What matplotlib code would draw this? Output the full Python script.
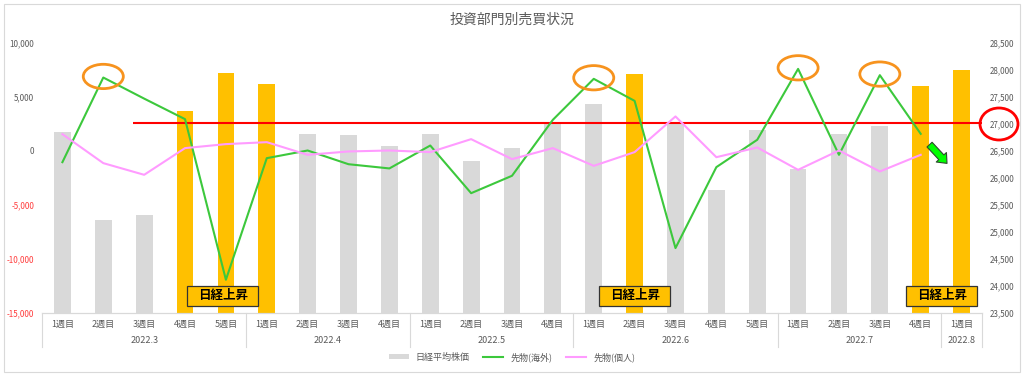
import numpy as np
import matplotlib.pyplot as plt
from matplotlib.patches import Ellipse, Rectangle
from matplotlib.ticker import FixedLocator, FuncFormatter

plt.rcParams['font.family'] = ['Noto Sans CJK JP', 'DejaVu Sans']

weeks = ['1週目', '2週目', '3週目', '4週目', '5週目',
         '1週目', '2週目', '3週目', '4週目',
         '1週目', '2週目', '3週目', '4週目',
         '1週目', '2週目', '3週目', '4週目', '5週目',
         '1週目', '2週目', '3週目', '4週目',
         '1週目']
months = ['2022.3', '2022.4', '2022.5', '2022.6', '2022.7', '2022.8']
weeks_in_month = [5, 4, 4, 5, 4, 1]

# 日経平均株価 (right axis)
nikkei = [26840, 25210, 25300, 27230, 27930, 27730,
          26810, 26790, 26580,
          26810, 26310, 26540, 26990,
          27360, 27920, 27000, 25760, 26870,
          26150, 26810, 26950, 27690,
          27990]
# weeks where the Nikkei rose (highlighted)
rise_idx = [3, 4, 5, 14, 21, 22]

# 先物(海外) / 先物(個人) (left axis)
futures_foreign = [-1080, 6750, 4800, 2900, -11960, -710,
                   0, -1270, -1660,
                   460, -3950, -2340, 2840,
                   6630, 4590, -9030, -1540, 990,
                   7550, -400, 6970, 1540]
futures_individual = [1510, -1170, -2250, 220, 590, 770,
                      -400, -90, 0,
                      -150, 1050, -800, 220,
                      -1420, -150, 3150, -620, 280,
                      -1790, 0, -1940, -400]

peaks = [1, 13, 18, 20]

x = np.arange(len(weeks))
gray = '#595959'

fig = plt.figure(figsize=(10.24, 3.77), dpi=100)
fig.add_artist(Rectangle((4 / 1024, 5 / 377), 1016 / 1024, 368 / 377,
                         transform=fig.transFigure, fill=False,
                         edgecolor='#D9D9D9', lw=0.8))

ax = fig.add_axes([0.041, 0.1708, 0.918, 0.7167])
ax2 = ax.twinx()
ax.set_zorder(ax2.get_zorder() + 1)
ax.patch.set_visible(False)

bar_colors = ['#FFC000' if i in rise_idx else '#D9D9D9' for i in range(len(nikkei))]
bars = ax2.bar(x, nikkei, width=0.41, color=bar_colors, label='日経平均株価', zorder=2)
ax2.set_ylim(23500, 28500)
ax2.yaxis.set_major_locator(FixedLocator(np.arange(23500, 28501, 500)))
ax2.yaxis.set_minor_locator(FixedLocator(np.arange(23500, 28501, 1000)))
ax2.grid(True, which='minor', axis='y', color='#E6E6E6', lw=0.8, zorder=0)
ax2.yaxis.set_major_formatter(FuncFormatter(lambda v, p: f'{v:,.0f}'))
ax2.tick_params(axis='y', which='both', length=0, labelsize=5.8, labelcolor=gray, pad=5.5)
ax2.hlines(27000, 1.73, 22.5, color='#FF0000', lw=1.5, zorder=3)

l1, = ax.plot(x[:len(futures_foreign)], futures_foreign, color='#3CC83C', lw=1.5, label='先物(海外)')
l2, = ax.plot(x[:len(futures_individual)], futures_individual, color='#FF9BFF', lw=1.5, label='先物(個人)')
ax.set_ylim(-15000, 10000)
ax.set_yticks(np.arange(-15000, 10001, 5000))
ax.yaxis.set_major_formatter(FuncFormatter(lambda v, p: f'{v:,.0f}'))
ax.tick_params(axis='y', length=0, labelsize=5.8, pad=5.5)
for lab, v in zip(ax.get_yticklabels(), ax.get_yticks()):
    lab.set_color('#FF3B3B' if v < 0 else gray)

ax.set_xlim(-0.5, len(weeks) - 0.5)
ax.set_xticks(x)
ax.set_xticklabels(weeks)
ax.tick_params(axis='x', length=0, labelsize=6.5, labelcolor=gray, pad=5)

for a in (ax, ax2):
    for s in ('top', 'left', 'right'):
        a.spines[s].set_visible(False)
    a.spines['bottom'].set_color('#D9D9D9')

# month group labels and separators
start = 0
bounds = [0]
for m, n in zip(months, weeks_in_month):
    ax.text(start + (n - 1) / 2, -0.104, m, transform=ax.get_xaxis_transform(),
            ha='center', va='center', fontsize=6.5, color=gray)
    start += n
    bounds.append(start)
for b in bounds:
    ax.plot([b - 0.5, b - 0.5], [0, -0.128], transform=ax.get_xaxis_transform(),
            color='#D9D9D9', lw=0.8, clip_on=False)

# orange circles around the foreign futures peaks
for i in peaks:
    ax.add_patch(Ellipse((i, futures_foreign[i] + 100), 0.98, 2250,
                         fill=False, edgecolor='#F7931E', lw=2, zorder=5))

# red circle around the 27,000 label
fig.add_artist(Ellipse((999 / 1024, 1 - 124 / 377), 38 / 1024, 32 / 377,
                       transform=fig.transFigure, fill=False,
                       edgecolor='#FF0000', lw=2))

# green arrow
ax.annotate('', xy=(21.69, -1380), xytext=(21.17, 730),
            arrowprops=dict(arrowstyle='simple,head_length=0.6,head_width=1.0,tail_width=0.5',
                            mutation_scale=10, fc='#00FF00', ec='#2E4A2E', lw=0.8))

# 日経上昇 labels
for cx in (3.92, 14.0, 21.51):
    ax.add_patch(Rectangle((cx - 0.87, -13440 - 925), 1.74, 1850, fc='#FFC000',
                           ec='#333333', lw=0.9, zorder=6))
    ax.text(cx, -13440, '日経上昇', ha='center', va='center', fontsize=9,
            fontweight='bold', color='black', zorder=7)

fig.text(0.5, 0.947, '投資部門別売買状況', ha='center', va='center', fontsize=10, color=gray)

fig.legend([bars, l1, l2], ['日経平均株価', '先物(海外)', '先物(個人)'],
           loc='center', bbox_to_anchor=(0.5, 0.053), ncol=3, frameon=False,
           fontsize=6.5, handlelength=2.2, handleheight=0.5, columnspacing=1.5,
           labelcolor=gray)

fig.savefig('out.png', dpi=100)
